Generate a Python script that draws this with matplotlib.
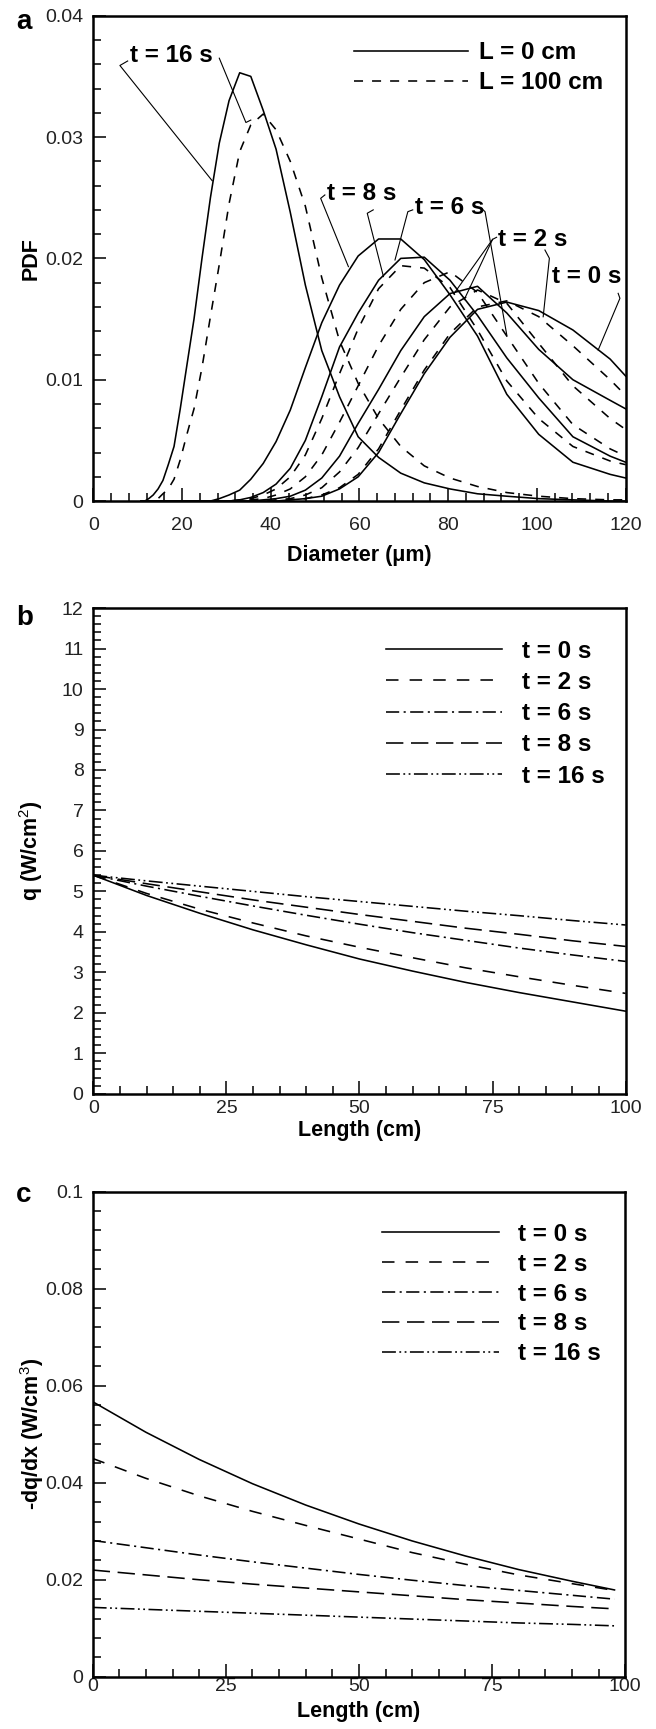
import matplotlib
matplotlib.use("Agg")
import matplotlib.pyplot as plt
from matplotlib.lines import Line2D
from matplotlib.ticker import MultipleLocator, FormatStrFormatter

plt.rcParams['font.family'] = ['Liberation Sans', 'DejaVu Sans']
plt.rcParams['mathtext.fontset'] = 'custom'
plt.rcParams['mathtext.rm'] = 'Liberation Sans'
plt.rcParams['mathtext.bf'] = 'Liberation Sans:bold'
plt.rcParams['lines.scale_dashes'] = False

# ---------------- panel a : droplet size PDF ----------------
diam = [10.8, 11.6, 12.5, 13.5, 14.6, 15.7, 16.9, 18.2, 19.6, 21.1, 22.7, 24.5,
        26.4, 28.4, 30.6, 33.0, 35.5, 38.3, 41.2, 44.4, 47.8, 51.5, 55.5, 59.7,
        64.3, 69.3, 74.6, 80.4, 86.6, 93.2, 100.4, 108.1, 116.5, 120.0]

pdf_t16_L0 = [0, 0, 0.0002, 0.0005, 0.0010, 0.0017, 0.0030, 0.0045, 0.0076, 0.0112, 0.0150, 0.0200,
              0.0250, 0.0295, 0.0330, 0.0353, 0.0350, 0.0322, 0.0290, 0.0238, 0.0178, 0.0124, 0.0086, 0.0053,
              0.0036, 0.0023, 0.0015, 0.0010, 0.0006, 0.0004, 0.0002, 0.0001, 0, 0]
pdf_t16_L100 = [0, 0, 0, 0, 0.0002, 0.0006, 0.0010, 0.0018, 0.0034, 0.0055, 0.0076, 0.0110,
                0.0152, 0.0195, 0.0245, 0.0288, 0.0310, 0.0319, 0.0306, 0.0280, 0.0243, 0.0184, 0.0132, 0.0097,
                0.0068, 0.0045, 0.0029, 0.0019, 0.0012, 0.0007, 0.0004, 0.0002, 0.0001, 0.0001]
pdf_t8_L0 = [0, 0, 0, 0, 0, 0, 0, 0, 0, 0, 0, 0,
             0, 0.0002, 0.0005, 0.0009, 0.0018, 0.0031, 0.0049, 0.0075, 0.0110, 0.0147, 0.0178, 0.0202,
             0.0216, 0.0216, 0.0199, 0.0170, 0.0136, 0.0088, 0.0055, 0.0032, 0.0022, 0.0019]
pdf_t8_L100 = [0, 0, 0, 0, 0, 0, 0, 0, 0, 0, 0, 0,
               0, 0, 0, 0.0001, 0.0002, 0.0005, 0.0010, 0.0020, 0.0038, 0.0068, 0.0105, 0.0142,
               0.0175, 0.0194, 0.0192, 0.0176, 0.0141, 0.0099, 0.0068, 0.0045, 0.0033, 0.0030]
pdf_t6_L0 = [0, 0, 0, 0, 0, 0, 0, 0, 0, 0, 0, 0,
             0, 0, 0, 0.0001, 0.0003, 0.0007, 0.0014, 0.0027, 0.0050, 0.0086, 0.0127, 0.0155,
             0.0182, 0.0200, 0.0201, 0.0182, 0.0153, 0.0118, 0.0085, 0.0053, 0.0037, 0.0032]
pdf_t6_L100 = [0, 0, 0, 0, 0, 0, 0, 0, 0, 0, 0, 0,
               0, 0, 0, 0, 0.0001, 0.0002, 0.0005, 0.0010, 0.0020, 0.0038, 0.0065, 0.0095,
               0.0128, 0.0158, 0.0180, 0.0189, 0.0172, 0.0136, 0.0097, 0.0063, 0.0043, 0.0037]
pdf_t2_L0 = [0, 0, 0, 0, 0, 0, 0, 0, 0, 0, 0, 0,
             0, 0, 0, 0, 0, 0.0001, 0.0002, 0.0004, 0.0009, 0.0019, 0.0037, 0.0064,
             0.0092, 0.0124, 0.0152, 0.0171, 0.0177, 0.0155, 0.0125, 0.0100, 0.0083, 0.0076]
pdf_t2_L100 = [0, 0, 0, 0, 0, 0, 0, 0, 0, 0, 0, 0,
               0, 0, 0, 0, 0, 0, 0.0001, 0.0002, 0.0005, 0.0011, 0.0024, 0.0044,
               0.0072, 0.0102, 0.0133, 0.0160, 0.0174, 0.0163, 0.0130, 0.0095, 0.0068, 0.0059]
pdf_t0_L0 = [0, 0, 0, 0, 0, 0, 0, 0, 0, 0, 0, 0,
             0, 0, 0, 0, 0, 0, 0, 0.0001, 0.0002, 0.0004, 0.0010, 0.0020,
             0.0040, 0.0072, 0.0105, 0.0135, 0.0158, 0.0164, 0.0157, 0.0141, 0.0117, 0.0103]
pdf_t0_L100 = [0, 0, 0, 0, 0, 0, 0, 0, 0, 0, 0, 0,
               0, 0, 0, 0, 0, 0, 0, 0.0001, 0.0002, 0.0005, 0.0011, 0.0022,
               0.0043, 0.0075, 0.0108, 0.0138, 0.0160, 0.0165, 0.0152, 0.0128, 0.0100, 0.0087]

# ---------------- panel b : heat flux along the length ----------------
length_b = [0, 10, 20, 30, 40, 50, 60, 70, 80, 90, 100]
q_t0 = [5.40, 4.90, 4.46, 4.05, 3.68, 3.33, 3.03, 2.75, 2.50, 2.27, 2.04]
q_t2 = [5.40, 4.95, 4.56, 4.22, 3.90, 3.62, 3.36, 3.11, 2.89, 2.68, 2.48]
q_t6 = [5.40, 5.13, 4.88, 4.64, 4.41, 4.19, 3.98, 3.79, 3.60, 3.43, 3.27]
q_t8 = [5.40, 5.19, 4.99, 4.79, 4.61, 4.43, 4.26, 4.09, 3.94, 3.78, 3.64]
q_t16 = [5.40, 5.26, 5.13, 5.00, 4.87, 4.75, 4.63, 4.51, 4.40, 4.28, 4.17]

# ---------------- panel c : -dq/dx along the length ----------------
length_c = [0, 10, 20, 30, 40, 50, 60, 70, 80, 90, 98]
dq_t0 = [0.0567, 0.0504, 0.0448, 0.0398, 0.0354, 0.0315, 0.0280, 0.0249, 0.0221, 0.0197, 0.0179]
dq_t2 = [0.0450, 0.0409, 0.0373, 0.0341, 0.0312, 0.0284, 0.0256, 0.0232, 0.0210, 0.0192, 0.0178]
dq_t6 = [0.0281, 0.0266, 0.0251, 0.0237, 0.0224, 0.0211, 0.0199, 0.0188, 0.0178, 0.0168, 0.0160]
dq_t8 = [0.0220, 0.0210, 0.0200, 0.0191, 0.0183, 0.0175, 0.0167, 0.0159, 0.0152, 0.0145, 0.0140]
dq_t16 = [0.0143, 0.0139, 0.0135, 0.0131, 0.0127, 0.0123, 0.0119, 0.0115, 0.0111, 0.0108, 0.0105]

time_labels = ['t = 0 s', 't = 2 s', 't = 6 s', 't = 8 s', 't = 16 s']

# line styles (dash lengths in points)
ls_time = ['-', (0, (9, 8)), (0, (9.5, 3.2, 1.5, 3.2)), (0, (12.5, 5.5)),
           (0, (10, 2.5, 1.3, 2.5, 1.3, 2.5))]
ls_a_dash = (0, (6.5, 6.5))
LW = 1.15
LEG_FS = 17.5
TICK_FS = 14
LAB_FS = 15.5

# annotation text + leader lines for panel a (data coordinates)
annots = [
    ("t = 16 s", 8.3, 0.0362, [[(7.75, 0.03627), (6.0, 0.0359), (26.8, 0.0264)],
                              [(28.4, 0.0365), (34.4, 0.0312), (35.5, 0.0314)]]),
    ("t = 8 s", 52.6, 0.0248, [[(52.2, 0.02523), (51.25, 0.02495), (57.5, 0.01932)],
                              [(63.1, 0.0240), (61.75, 0.02372), (65.4, 0.0185)]]),
    ("t = 6 s", 72.5, 0.02366, [[(72.0, 0.0240), (70.9, 0.02385), (68.0, 0.01987)],
                               [(87.5, 0.02413), (88.3, 0.02385), (93.2, 0.01369)]]),
    ("t = 2 s", 91.3, 0.02105, [[(90.9, 0.02174), (90.0, 0.02157), (81.3, 0.0171)],
                               [(90.0, 0.02157), (83.6, 0.0166)]]),
    ("t = 0 s", 103.3, 0.01795, [[(101.8, 0.02069), (102.8, 0.02001), (101.4, 0.01519)],
                                [(118.3, 0.01712), (118.7, 0.01671), (113.8, 0.01245)]]),
]


def style_axes(ax, xmaj, xmin, ymaj, ymin, xpad, yfmt):
    for s in ax.spines.values():
        s.set_linewidth(1.8)
    ax.xaxis.set_major_locator(MultipleLocator(xmaj))
    ax.xaxis.set_minor_locator(MultipleLocator(xmin))
    ax.yaxis.set_major_locator(MultipleLocator(ymaj))
    ax.yaxis.set_minor_locator(MultipleLocator(ymin))
    ax.yaxis.set_major_formatter(FormatStrFormatter(yfmt))
    ax.tick_params(which='both', direction='in', top=False, right=False,
                   width=1.1, labelsize=TICK_FS, labelcolor='#222222')
    ax.tick_params(which='major', length=9.5)
    ax.tick_params(which='minor', length=5.8)
    ax.tick_params(axis='y', pad=7)
    ax.tick_params(axis='x', pad=xpad)


def time_legend(ax, x0, y0, spacing):
    ax.legend(loc='upper left', bbox_to_anchor=(x0, y0), frameon=False, borderpad=0,
              borderaxespad=0, handlelength=4.8, handletextpad=0.8, labelspacing=spacing,
              prop={'size': LEG_FS, 'weight': 'bold'})


fig = plt.figure(figsize=(6.56, 17.29), dpi=100)
ax_a = fig.add_axes([0.1422, 0.7102, 0.8116, 0.2807])
ax_b = fig.add_axes([0.1422, 0.3674, 0.8116, 0.2809])
ax_c = fig.add_axes([0.1413, 0.0302, 0.8117, 0.2806])

# ---- a
pairs = [(pdf_t16_L0, pdf_t16_L100), (pdf_t8_L0, pdf_t8_L100), (pdf_t6_L0, pdf_t6_L100),
         (pdf_t2_L0, pdf_t2_L100), (pdf_t0_L0, pdf_t0_L100)]
for s0, s100 in pairs:
    ax_a.plot(diam, s0, color='black', lw=LW, ls='-')
    ax_a.plot(diam, s100, color='black', lw=LW, ls=ls_a_dash)

for txt, tx, ty, leaders in annots:
    ax_a.text(tx, ty, txt, fontsize=LEG_FS, fontweight='bold', ha='left', va='baseline')
    for pts in leaders:
        ax_a.plot([p[0] for p in pts], [p[1] for p in pts], color='black', lw=0.8)

ax_a.set_xlim(0, 120)
ax_a.set_ylim(0, 0.04)
style_axes(ax_a, 20, 4, 0.01, 0.002, 11.5, '%g')
ax_a.set_ylabel('PDF', fontsize=LAB_FS, fontweight='bold')
ax_a.yaxis.set_label_coords(-0.0964, 0.5)
ax_a.set_xlabel('Diameter (μm)', fontsize=LAB_FS, fontweight='bold')
ax_a.xaxis.set_label_coords(0.5, -0.091)
h_a = [Line2D([], [], color='black', lw=LW, ls='-'),
       Line2D([], [], color='black', lw=LW, ls=ls_a_dash)]
ax_a.legend(h_a, ['L = 0 cm', 'L = 100 cm'], loc='upper left', bbox_to_anchor=(0.489, 0.947),
            frameon=False, borderpad=0, borderaxespad=0, handlelength=4.7, handletextpad=0.47,
            labelspacing=0.28, prop={'size': LEG_FS, 'weight': 'bold'})

# ---- b
for y, ls, lab in zip([q_t0, q_t2, q_t6, q_t8, q_t16], ls_time, time_labels):
    ax_b.plot(length_b, y, color='black', lw=LW, ls=ls, label=lab)
ax_b.set_xlim(0, 100)
ax_b.set_ylim(0, 12)
style_axes(ax_b, 25, 5, 1, 0.2, 4.2, '%g')
ax_b.set_ylabel(r'q (W/cm$^2$)', fontsize=LAB_FS, fontweight='bold')
ax_b.yaxis.set_label_coords(-0.0907, 0.5)
ax_b.set_xlabel('Length (cm)', fontsize=LAB_FS, fontweight='bold')
ax_b.xaxis.set_label_coords(0.5, -0.053)
time_legend(ax_b, 0.5494, 0.935, 0.34)

# ---- c
for y, ls, lab in zip([dq_t0, dq_t2, dq_t6, dq_t8, dq_t16], ls_time, time_labels):
    ax_c.plot(length_c, y, color='black', lw=LW, ls=ls, label=lab)
ax_c.set_xlim(0, 100)
ax_c.set_ylim(0, 0.1)
style_axes(ax_c, 25, 5, 0.02, 0.004, 1.0, '%g')
ax_c.set_ylabel(r'-dq/dx (W/cm$^3$)', fontsize=LAB_FS, fontweight='bold')
ax_c.yaxis.set_label_coords(-0.0877, 0.5)
ax_c.set_xlabel('Length (cm)', fontsize=LAB_FS, fontweight='bold')
ax_c.xaxis.set_label_coords(0.5, -0.049)
time_legend(ax_c, 0.5435, 0.9355, 0.28)

# panel letters
fig.text(16 / 656, 1 - 29.3 / 1729, 'a', fontsize=20, fontweight='bold', ha='left', va='baseline')
fig.text(16 / 656, 1 - 625 / 1729, 'b', fontsize=20, fontweight='bold', ha='left', va='baseline')
fig.text(16 / 656, 1 - 1201.7 / 1729, 'c', fontsize=20, fontweight='bold', ha='left', va='baseline')

fig.savefig('out.png', dpi=100)
